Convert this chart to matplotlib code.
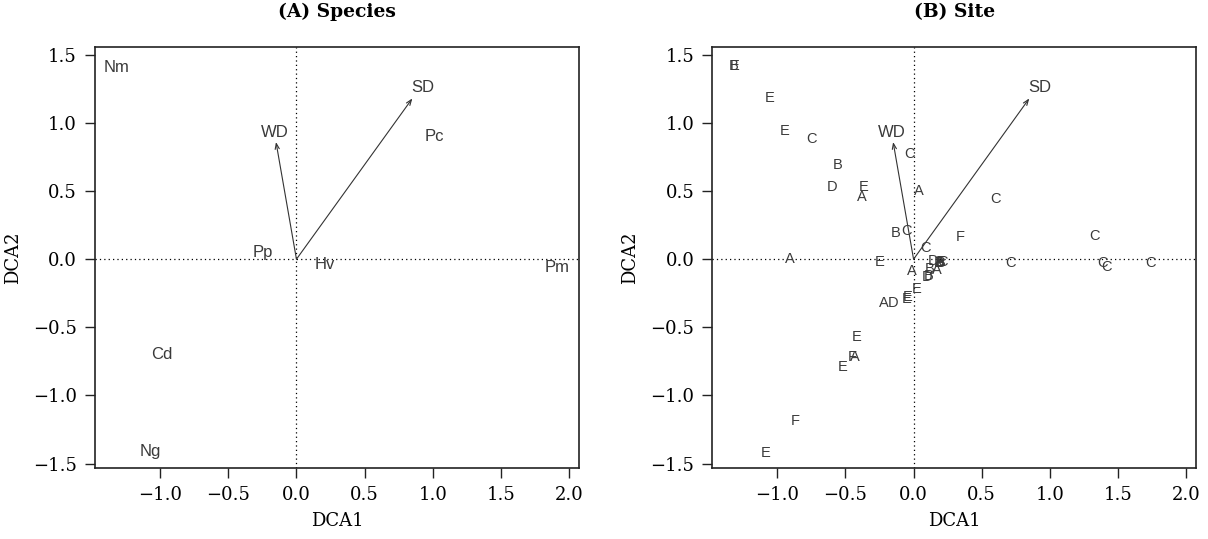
import matplotlib
matplotlib.use("Agg")
import matplotlib.pyplot as plt

# Panel A: species scores
species = ["Nm", "Pc", "Pp", "Hv", "Pm", "Cd", "Ng"]
sp_x = [-1.32, 1.01, -0.25, 0.21, 1.91, -0.99, -1.07]
sp_y = [1.41, 0.90, 0.05, -0.04, -0.06, -0.70, -1.41]

# Environmental vectors
env_names = ["SD", "WD"]
env_x = [0.85, -0.15]
env_y = [1.18, 0.86]
env_lab_x = [0.93, -0.16]
env_lab_y = [1.26, 0.93]

# Panel B: site scores (group letters)
site_lab = ["B", "E", "E", "E", "C", "B", "D", "E", "A", "C", "A", "B", "C",
            "C", "F", "C", "E", "D",
            "A", "B", "C", "D", "E", "B", "A", "D", "B", "A", "E",
            "A", "D", "E", "E", "E", "F", "A", "E", "F", "E", "A",
            "C", "C", "C", "C", "C"]
site_x = [-1.325, -1.315, -1.06, -0.95, -0.75, -0.56, -0.60, -0.37, -0.38, -0.03, 0.04, -0.13, -0.05,
          0.60, 0.34, 0.09, -0.25, 0.14,
          0.19, 0.20, 0.21, 0.19, 0.20, 0.12, 0.17, 0.10, 0.11, -0.01, 0.02,
          -0.22, -0.15, -0.05, -0.04, -0.42, -0.45, -0.435, -0.52, -0.87, -1.09, -0.91,
          1.33, 0.71, 1.39, 1.42, 1.74]
site_y = [1.42, 1.42, 1.18, 0.94, 0.88, 0.69, 0.53, 0.53, 0.46, 0.77, 0.50, 0.19, 0.21,
          0.44, 0.16, 0.08, -0.02, -0.01,
          -0.02, -0.03, -0.02, -0.03, -0.02, -0.07, -0.08, -0.13, -0.12, -0.09, -0.22,
          -0.32, -0.32, -0.29, -0.28, -0.57, -0.72, -0.72, -0.79, -1.19, -1.42, 0.00,
          0.17, -0.03, -0.03, -0.06, -0.03]

xticks = [-1.0, -0.5, 0.0, 0.5, 1.0, 1.5, 2.0]
yticks = [-1.5, -1.0, -0.5, 0.0, 0.5, 1.0, 1.5]
tick_labels_x = ["\u22121.0", "\u22120.5", "0.0", "0.5", "1.0", "1.5", "2.0"]
tick_labels_y = ["\u22121.5", "\u22121.0", "\u22120.5", "0.0", "0.5", "1.0", "1.5"]

serif = "DejaVu Serif"
sans = "Liberation Sans"
txt_col = "#3a3a3a"

fig = plt.figure(figsize=(12.08, 5.39), dpi=100)
axA = fig.add_axes([0.0786, 0.1323, 0.401, 0.7799])
axB = fig.add_axes([0.5897, 0.1323, 0.4004, 0.7799])


def style(ax, title):
    ax.set_xlim(-1.478, 2.075)
    ax.set_ylim(-1.53, 1.555)
    ax.axhline(0, color="black", lw=0.9, ls=(0, (1, 2.5)), zorder=1)
    ax.axvline(0, color="black", lw=0.9, ls=(0, (1, 2.5)), zorder=1)
    ax.set_xticks(xticks)
    ax.set_xticklabels(tick_labels_x, fontfamily=serif, fontsize=13)
    ax.set_yticks(yticks)
    ax.set_yticklabels(tick_labels_y, fontfamily=serif, fontsize=13)
    ax.tick_params(direction="out", length=7, width=1.0, pad=6, color="#222222")
    for s in ax.spines.values():
        s.set_linewidth(1.2)
        s.set_color("#222222")
    ax.set_xlabel("DCA1", fontfamily=serif, fontsize=13, labelpad=6)
    ax.set_ylabel("DCA2", fontfamily=serif, fontsize=13, labelpad=8)
    ax.set_title(title, fontfamily=serif, fontsize=13.5, fontweight="bold", pad=22)
    for name, x, y, lx, ly in zip(env_names, env_x, env_y, env_lab_x, env_lab_y):
        ax.annotate("", xy=(x, y), xytext=(0, 0),
                    arrowprops=dict(arrowstyle="->,head_length=0.4,head_width=0.15",
                                    color="#333333", lw=0.8, shrinkA=0, shrinkB=0))
        ax.text(lx, ly, name, fontfamily=sans, fontsize=12, color=txt_col,
                ha="center", va="center")


style(axA, "(A) Species")
for name, x, y in zip(species, sp_x, sp_y):
    axA.text(x, y, name, fontfamily=sans, fontsize=12, color=txt_col,
             ha="center", va="center")

style(axB, "(B) Site")
for name, x, y in zip(site_lab, site_x, site_y):
    axB.text(x, y, name, fontfamily=sans, fontsize=10.5, color=txt_col,
             ha="center", va="center")

fig.savefig("out.png", dpi=100)
